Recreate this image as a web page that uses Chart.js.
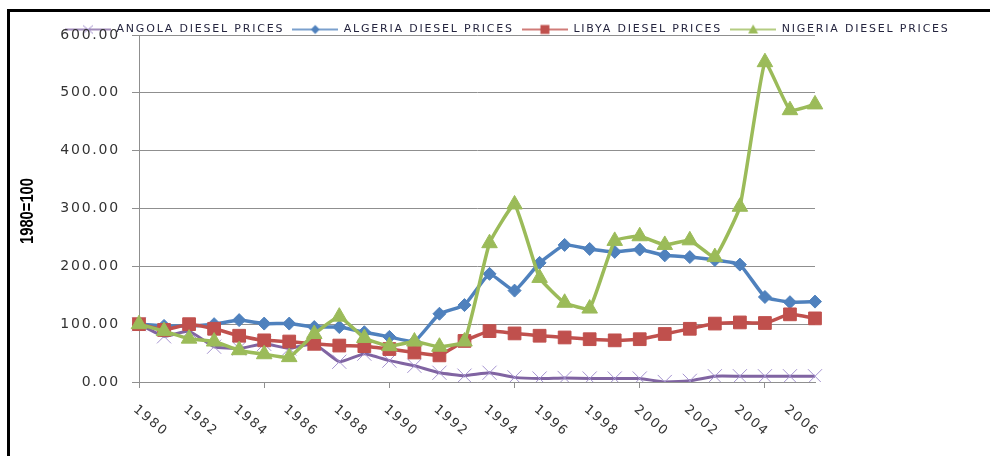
<!DOCTYPE html>
<html>
<head>
<meta charset="utf-8">
<script src="https://cdn.jsdelivr.net/npm/chart.js@4.4.1/dist/chart.umd.min.js"></script>
<style>
  html, body { margin: 0; padding: 0; background: #fff; }
  #wrap { position: relative; width: 990px; height: 456px; overflow: hidden; }
  #frame { position: absolute; left: 7px; top: 9px; width: 1000px; height: 460px;
           border-left: 3px solid #000; border-top: 3px solid #000; pointer-events: none; }
  canvas { position: absolute; left: 0; top: 0; }
</style>
</head>
<body>
<div id="wrap">
  <canvas id="chart" width="990" height="456"></canvas>
  <div id="frame"></div>
</div>
<script>
// index, 1980 = 100
const years = ['1980', '1981', '1982', '1983', '1984', '1985', '1986', '1987', '1988', '1989',
  '1990', '1991', '1992', '1993', '1994', '1995', '1996', '1997', '1998', '1999',
  '2000', '2001', '2002', '2003', '2004', '2005', '2006', '2007'];
const angola = [100, 79, 88, 61, 58, 66, 58, 66, 35, 49, 37, 28, 16, 11, 16, 8, 6, 7, 6, 6, 6, 0, 2, 10, 10, 10, 10, 10];
const algeria = [100, 97, 97, 100, 107, 101, 101, 95, 95, 86, 78, 70, 118, 133, 187, 158, 206, 237, 230, 225, 229, 219, 216, 211, 203, 147, 138, 139];
const libya = [100, 90, 100, 92, 80, 72, 70, 66, 63, 62, 57, 51, 46, 71, 88, 84, 80, 77, 74, 72, 74, 83, 92, 101, 103, 102, 117, 110];
const nigeria = [100, 88, 75, 70, 55, 48, 43, 83, 113, 76, 62, 70, 61, 70, 240, 307, 180, 137, 127, 244, 252, 237, 245, 216, 303, 553, 470, 480];
const seriesNames = ['ANGOLA DIESEL PRICES', 'ALGERIA DIESEL PRICES', 'LIBYA DIESEL PRICES', 'NIGERIA DIESEL PRICES'];
const yTicks = [0, 100, 200, 300, 400, 500, 600];
const yTitle = '1980=100';

const colors = ['#8064A2', '#4F81BD', '#C0504D', '#9BBB59'];
const gridGray = '#8f8f8f';

// little line+marker pictures for the legend
function legendSymbol(color, marker) {
  const c = document.createElement('canvas');
  c.width = 46; c.height = 14;
  const g = c.getContext('2d');
  g.strokeStyle = color; g.lineWidth = 1.5;
  g.beginPath(); g.moveTo(0, 7); g.lineTo(46, 7); g.stroke();
  g.fillStyle = color;
  g.beginPath();
  if (marker === 'x') {
    g.strokeStyle = '#a593d0'; g.lineWidth = 1;
    g.moveTo(18, 3); g.lineTo(28, 11); g.moveTo(28, 3); g.lineTo(18, 11); g.stroke();
  } else if (marker === 'diamond') {
    g.moveTo(23, 2.5); g.lineTo(27.5, 7); g.lineTo(23, 11.5); g.lineTo(18.5, 7); g.fill();
  } else if (marker === 'square') {
    g.rect(18.5, 2.5, 9, 9); g.fill();
  } else {
    g.moveTo(23, 2); g.lineTo(28, 11); g.lineTo(18, 11); g.fill();
  }
  return c;
}
const symbols = [
  legendSymbol(colors[0], 'x'),
  legendSymbol(colors[1], 'diamond'),
  legendSymbol(colors[2], 'square'),
  legendSymbol(colors[3], 'triangle')
];

const excelLook = {
  id: 'excelLook',
  beforeUpdate(chart) { chart.ctx.letterSpacing = '1.8px'; },
  beforeDraw(chart) { chart.ctx.letterSpacing = '1.8px'; },
  afterLayout(chart) {
    // legend sits on the top gridline, as in the original
    chart.legend.left = 57;
    chart.legend.top = 16;
    chart.legend.bottom = 45;
  },
  afterDraw(chart) {
    const ctx = chart.ctx;
    const xs = chart.scales.x;
    ctx.save();
    ctx.letterSpacing = '1.8px';
    ctx.font = '13px "DejaVu Sans"';
    ctx.fillStyle = '#333333';
    ctx.textAlign = 'left';
    ctx.textBaseline = 'middle';
    years.forEach((yr, i) => {
      if (i % 2) return;
      ctx.save();
      ctx.translate(xs.getPixelForValue(i) - 4, 408);
      ctx.rotate(40 * Math.PI / 180);
      ctx.fillText(yr, 0, 0);
      ctx.restore();
    });
    ctx.letterSpacing = '0px';
    ctx.font = 'bold 18px "Liberation Sans", sans-serif';
    ctx.fillStyle = '#000';
    ctx.textAlign = 'center';
    ctx.translate(28, 211);
    ctx.rotate(-Math.PI / 2);
    ctx.scale(0.82, 1);
    ctx.fillText(yTitle, 0, 0);
    ctx.restore();
  }
};

Chart.defaults.font.family = '"DejaVu Sans", sans-serif';

new Chart(document.getElementById('chart'), {
  type: 'line',
  data: {
    labels: years,
    datasets: [
      {
        label: seriesNames[0], data: angola, order: 3,
        borderColor: colors[0], borderWidth: 3,
        pointStyle: 'crossRot', pointRadius: 10, pointBorderWidth: 1,
        pointBorderColor: '#a593d0', pointBackgroundColor: 'transparent'
      },
      {
        label: seriesNames[1], data: algeria, order: 2,
        borderColor: colors[1], borderWidth: 3.5,
        pointStyle: 'rectRot', pointRadius: 6.5, pointBorderWidth: 1,
        pointBorderColor: colors[1], pointBackgroundColor: colors[1]
      },
      {
        label: seriesNames[2], data: libya, order: 1,
        borderColor: colors[2], borderWidth: 3.5,
        pointStyle: 'rect', pointRadius: 9, pointBorderWidth: 1,
        pointBorderColor: colors[2], pointBackgroundColor: colors[2]
      },
      {
        label: seriesNames[3], data: nigeria, order: 0,
        borderColor: colors[3], borderWidth: 3.5,
        pointStyle: 'triangle', pointRadius: 9, pointBorderWidth: 1,
        pointBorderColor: colors[3], pointBackgroundColor: colors[3]
      }
    ]
  },
  options: {
    responsive: false,
    animation: false,
    devicePixelRatio: 1,
    elements: { line: { tension: 0.12 } },
    layout: { padding: { top: 6, left: 0, right: 0, bottom: 0 } },
    plugins: {
      tooltip: { enabled: false },
      legend: {
        position: 'top',
        align: 'start',
        labels: {
          usePointStyle: true,
          pointStyleWidth: 46,
          padding: 8,
          color: '#25253f',
          font: { size: 11 },
          sort: (a, b) => a.datasetIndex - b.datasetIndex,
          generateLabels: chart => Chart.defaults.plugins.legend.labels.generateLabels(chart)
            .map(it => Object.assign(it, { pointStyle: symbols[it.datasetIndex] }))
        }
      }
    },
    scales: {
      x: {
        type: 'category',
        ticks: { display: false },
        grid: {
          drawOnChartArea: false,
          tickLength: 6,
          color: c => (c.index % 5 === 0 ? gridGray : 'rgba(0,0,0,0)')
        },
        border: { color: gridGray },
        afterFit: s => { s.height = 74; }
      },
      y: {
        position: 'left',
        min: yTicks[0],
        max: yTicks[yTicks.length - 1],
        ticks: {
          stepSize: 100,
          padding: 12,
          color: '#333333',
          font: { size: 14 },
          callback: v => Number(v).toFixed(2)
        },
        grid: { color: gridGray, tickLength: 7 },
        border: { color: gridGray },
        afterFit: s => { s.width = 139; }
      },
      yRight: {
        position: 'right',
        display: true,
        grid: { display: false },
        ticks: { display: false },
        border: { display: false },
        afterFit: s => { s.width = 175; }
      }
    }
  },
  plugins: [excelLook]
});
</script>
</body>
</html>
